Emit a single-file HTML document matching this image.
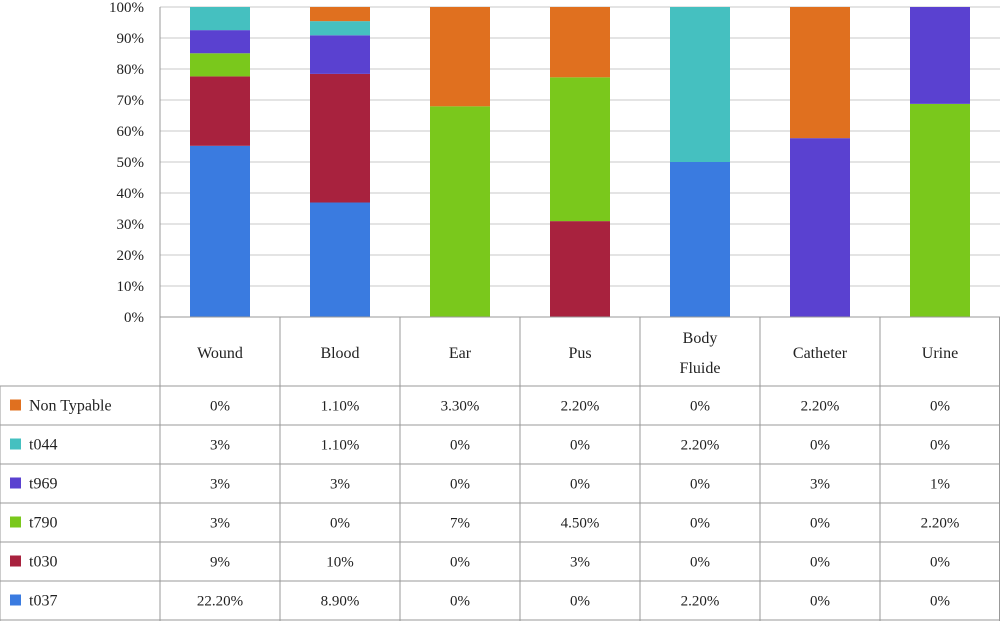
<!DOCTYPE html>
<html><head><meta charset="utf-8"><style>
body{margin:0;background:#fff;}
svg{display:block;font-family:"Liberation Serif","DejaVu Serif",serif;}
</style></head><body>
<svg id="chart" width="1000" height="621" viewBox="0 0 1000 621"></svg>
<script>
const categories = ["Wound","Blood","Ear","Pus","Body Fluide","Catheter","Urine"];
const seriesNames = ["Non Typable","t044","t969","t790","t030","t037"];
const nonTypable = [0,1.1,3.3,2.2,0,2.2,0];
const t044 = [3,1.1,0,0,2.2,0,0];
const t969 = [3,3,0,0,0,3,1];
const t790 = [3,0,7,4.5,0,0,2.2];
const t030 = [9,10,0,3,0,0,0];
const t037 = [22.2,8.9,0,0,2.2,0,0];
const tableLabels = [
 ["0%","1.10%","3.30%","2.20%","0%","2.20%","0%"],
 ["3%","1.10%","0%","0%","2.20%","0%","0%"],
 ["3%","3%","0%","0%","0%","3%","1%"],
 ["3%","0%","7%","4.50%","0%","0%","2.20%"],
 ["9%","10%","0%","3%","0%","0%","0%"],
 ["22.20%","8.90%","0%","0%","2.20%","0%","0%"]
];
const yTicks = [0,10,20,30,40,50,60,70,80,90,100];
const colors = ["#e0701f","#45c0c0","#5a41d0","#7ac81c","#a8223e","#3a7be0"];
const seriesData = [nonTypable,t044,t969,t790,t030,t037];

const svg = document.getElementById('chart');
const NS = "http://www.w3.org/2000/svg";
const x0 = 160, colW = 120, yTop = 7, yBot = 317;
const y = v => yBot - (yBot - yTop) * v / 100;
const xc = i => x0 + colW * i + colW / 2;
function mk(tag, attrs, parent){const e=document.createElementNS(NS,tag);for(const k in attrs)e.setAttribute(k,attrs[k]);(parent||svg).appendChild(e);return e;}

// gridlines & y ticks
yTicks.forEach(t=>{
  const g = mk('line',{x1:x0,x2:1000,y1:y(t),y2:y(t),stroke:'#c8c8c8','stroke-width':1});
  
  
  const tx = mk('text',{x:144,y:y(t)+5,'text-anchor':'end','font-size':15,fill:'#222'});
  tx.textContent = t + '%';
  
  
});

// bars (stack from bottom: t037 ... NT)
categories.forEach((c,i)=>{
  let total = 0; seriesData.forEach(s=>total+=s[i]);
  let acc = 0;
  for (let k = seriesData.length-1; k>=0; k--){
    const v = total ? seriesData[k][i]/total*100 : 0;
    if (v>0){
      const r = mk('rect',{x:xc(i)-30,width:60,y:y(acc+v),height:y(acc)-y(acc+v),fill:colors[k]});
      
      
    }
    acc += v;
  }
});
mk('line',{x1:x0,x2:x0,y1:yTop,y2:yBot,stroke:'#999'});

// table
const lineC = '#999';
const headBot = 386, rowH = 39;
mk('line',{x1:x0,x2:1000,y1:yBot,y2:yBot,stroke:lineC});
for(let i=0;i<=7;i++){ mk('line',{x1:x0+colW*i,x2:x0+colW*i,y1:yBot,y2:621,stroke:lineC}); }
mk('line',{x1:0,x2:0,y1:headBot,y2:621,stroke:lineC});
mk('line',{x1:999.5,x2:999.5,y1:yBot,y2:621,stroke:lineC});
for(let r=0;r<=6;r++){ const yy=Math.min(headBot+rowH*r,620); mk('line',{x1:0,x2:1000,y1:yy,y2:yy,stroke:lineC}); }

categories.forEach((c,i)=>{
  const parts = c==="Body Fluide" ? ["Body","Fluide"] : [c];
  parts.forEach((p,j)=>{
    const t = mk('text',{x:xc(i),y:(parts.length>1? 343+j*30 : 358),'text-anchor':'middle','font-size':16,fill:'#222'});
    t.textContent = p;
    
    
  });
});
seriesNames.forEach((n,r)=>{
  const cy = headBot + rowH*r + rowH/2 + 5;
  mk('rect',{x:10,y:cy-11,width:11,height:11,fill:colors[r]});
  const lt = mk('text',{x:29,y:cy,'font-size':16,fill:'#222'});
  lt.textContent = n;
  
  
  tableLabels[r].forEach((v,i)=>{
    const t = mk('text',{x:xc(i),y:cy,'text-anchor':'middle','font-size':15,fill:'#222'});
    t.textContent = v;
    
    
  });
});
</script>
</body></html>
